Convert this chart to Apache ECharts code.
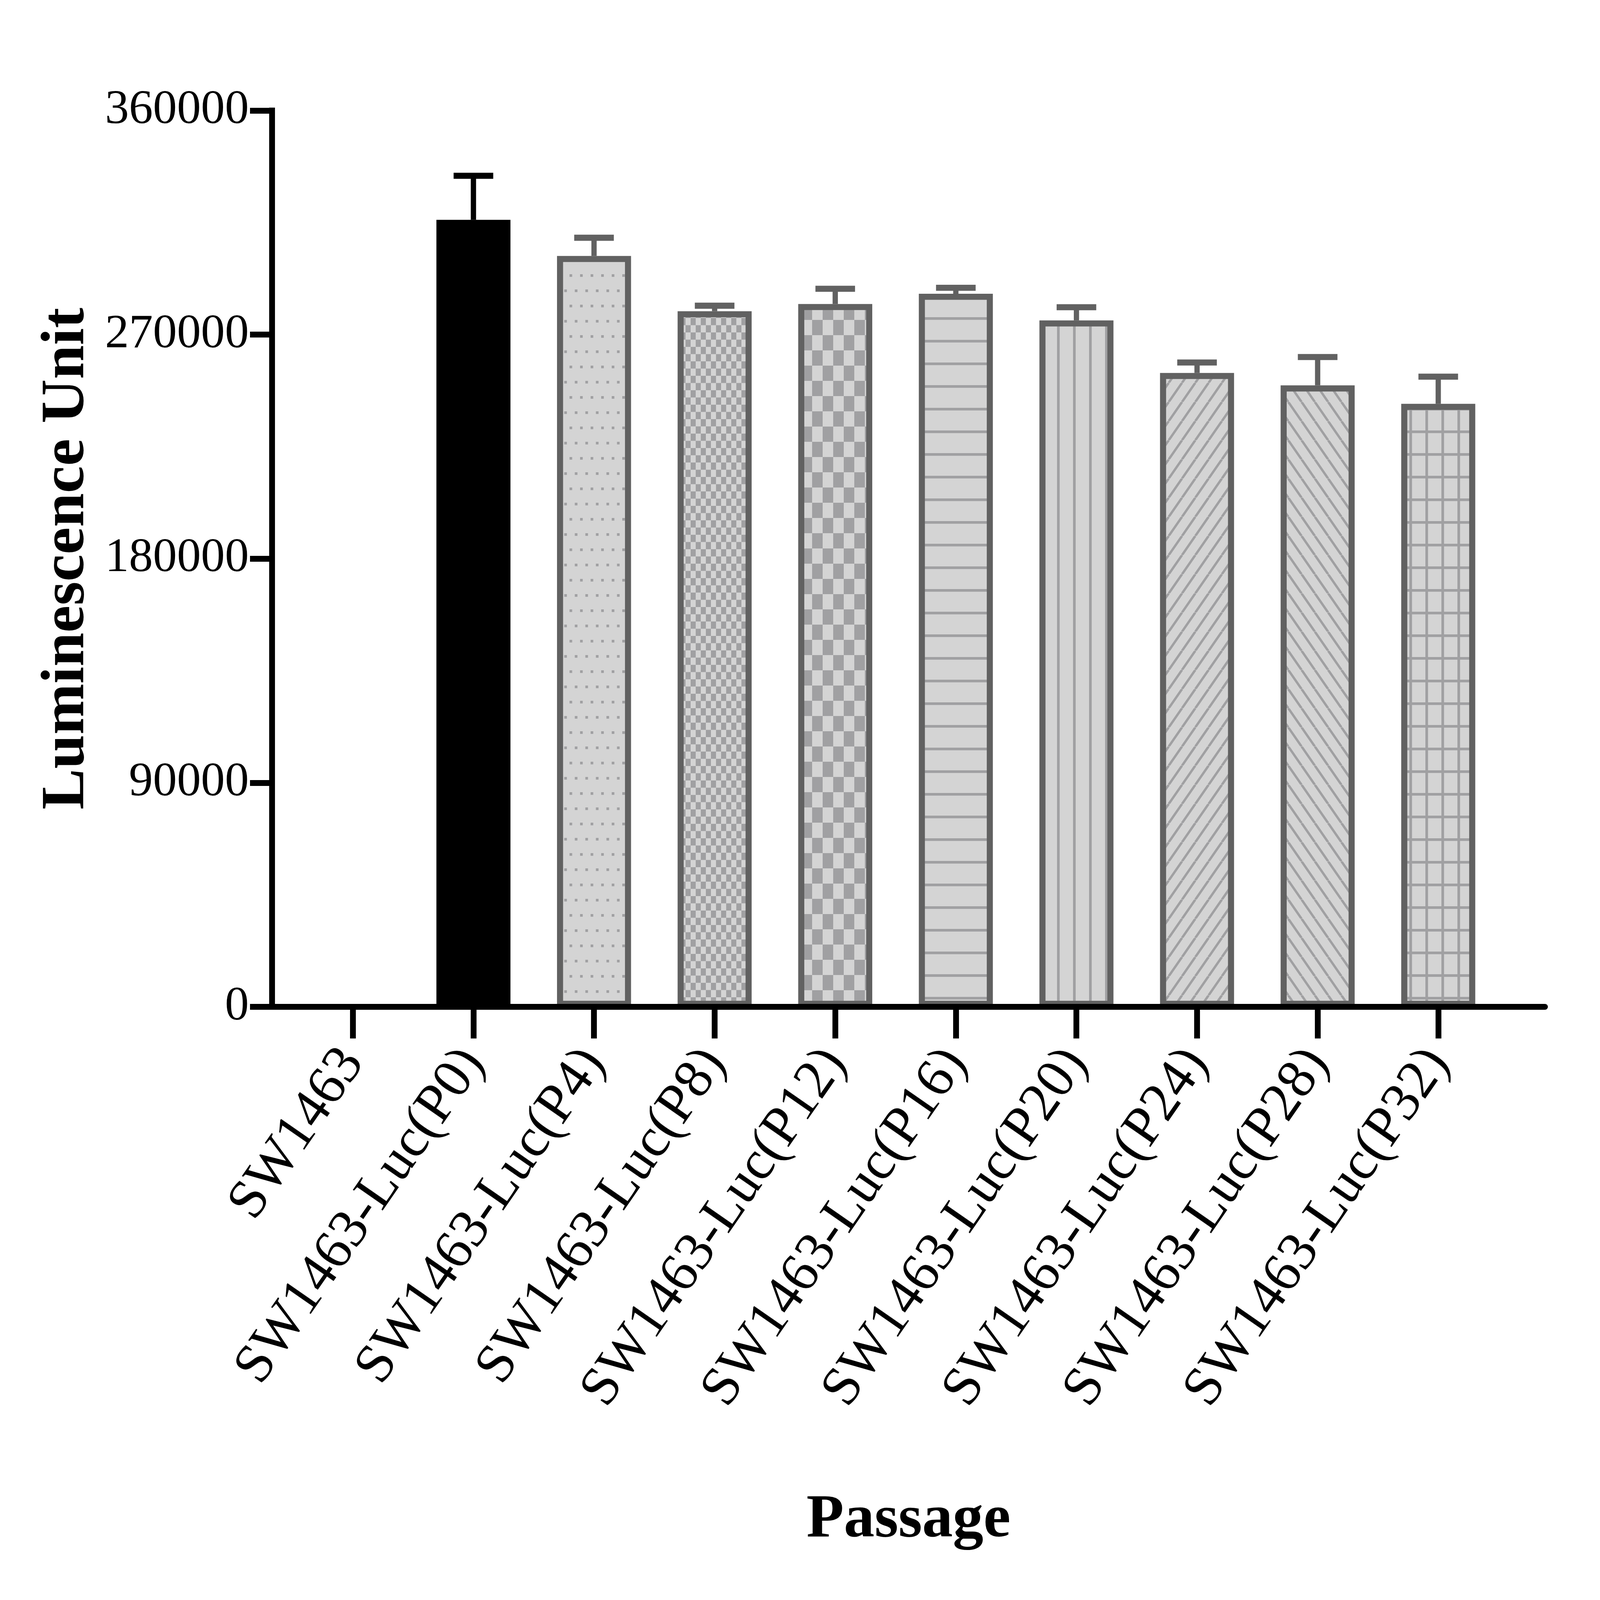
<!DOCTYPE html>
<html>
<head>
<meta charset="utf-8">
<script src="https://cdn.jsdelivr.net/npm/echarts@6/dist/echarts.min.js"></script>
<style>
  html, body { margin: 0; padding: 0; background: #fff; overflow: hidden; }
  #main { width: 100vw; height: 100vh; }
</style>
</head>
<body>
<div id="main"></div>
<script>
// data
const categories = ['SW1463', 'SW1463-Luc(P0)', 'SW1463-Luc(P4)', 'SW1463-Luc(P8)', 'SW1463-Luc(P12)',
    'SW1463-Luc(P16)', 'SW1463-Luc(P20)', 'SW1463-Luc(P24)', 'SW1463-Luc(P28)', 'SW1463-Luc(P32)'];
const means = [0, 316100, 301600, 279400, 282300, 286400, 275700, 254600, 249600, 242200];
const errors = [0, 17700, 7300, 2200, 6100, 2400, 5300, 4200, 11400, 10900];
const yTicks = [0, 90000, 180000, 270000, 360000];
const fills = ['none', 'solid', 'dots', 'checkSmall', 'checkLarge', 'hlines', 'vlines', 'diagUp', 'diagDown', 'grid'];

const FONT = '"Liberation Serif", "Times New Roman", serif';
const BG = '#d4d4d4';
const INK = '#a0a0a2';
const EDGE = '#616161';

// layout is measured on the 7270x5052 reference and scaled to the real window
const W = window.innerWidth, H = window.innerHeight;
const sx = W / 7270, sy = H / 5052, sf = Math.sqrt(sx * sy);
// keeps the labels on the reference's 45 degree slant when the window is not the same shape
const labelAngle = Math.atan2(sy, sx) * 180 / Math.PI;

// little canvases used as repeating fill textures
function makePattern(kind) {
    let w = 72, h = 72;
    if (kind === 'dots') { w = 48; h = 96; }
    if (kind === 'checkSmall') { w = 46; h = 46; }
    if (kind === 'checkLarge') { w = 96; h = 96; }
    if (kind === 'diagUp' || kind === 'diagDown') { w = 60; h = 60; }
    w = Math.max(4, Math.round(w * sx));
    h = Math.max(4, Math.round(h * sy));
    const c = document.createElement('canvas');
    c.width = w; c.height = h;
    const ctx = c.getContext('2d');
    ctx.fillStyle = BG;
    ctx.fillRect(0, 0, w, h);
    ctx.fillStyle = INK;
    ctx.strokeStyle = INK;
    const t = Math.max(1, 10 * sf);
    if (kind === 'dots') {
        ctx.fillRect(0, 0, t, t);
        ctx.fillRect(w / 2, h / 2, t, t);
    } else if (kind === 'checkSmall' || kind === 'checkLarge') {
        ctx.fillRect(0, 0, w / 2, h / 2);
        ctx.fillRect(w / 2, h / 2, w / 2, h / 2);
    } else if (kind === 'hlines') {
        ctx.fillRect(0, 0, w, t);
    } else if (kind === 'vlines') {
        ctx.fillRect(0, 0, t, h);
    } else if (kind === 'grid') {
        ctx.fillRect(0, 0, w, t);
        ctx.fillRect(0, 0, t, h);
    } else if (kind === 'diagUp' || kind === 'diagDown') {
        ctx.lineWidth = 9 * sf;
        ctx.beginPath();
        for (let k = -1; k <= 1; k++) {
            if (kind === 'diagUp') {
                ctx.moveTo(k * w, h);
                ctx.lineTo(k * w + w, 0);
            } else {
                ctx.moveTo(k * w, 0);
                ctx.lineTo(k * w + w, h);
            }
        }
        ctx.stroke();
    }
    return c;
}

const borderW = 23 * sf;

function barStyle(kind) {
    if (kind === 'none') return { color: '#000', borderWidth: 0 };
    if (kind === 'solid') return { color: '#000', borderColor: '#000', borderWidth: borderW };
    return {
        color: { image: makePattern(kind), repeat: 'repeat' },
        borderColor: EDGE,
        borderWidth: borderW
    };
}

const errColor = fills.map(k => (k === 'solid' ? '#000' : EDGE));
const xTickValues = categories.map((c, i) => i);
const axisW = 22 * sf;

const chart = echarts.init(document.getElementById('main'));

const option = {
    animation: false,
    backgroundColor: '#fff',
    grid: {
        left: 1236 * sx,
        right: 250 * sx,
        top: 349 * sy,
        bottom: 1873 * sy,
        containLabel: false,
        outerBoundsMode: 'none'
    },
    xAxis: {
        type: 'value',
        min: -0.67,
        max: 9.885,
        z: 10,
        name: 'Passage',
        nameLocation: 'middle',
        nameGap: 1525 * sy,
        nameTextStyle: { fontFamily: FONT, fontSize: 232 * sf, fontWeight: 'bold', color: '#000' },
        axisLine: { show: true, onZero: false, lineStyle: { color: '#000', width: axisW } },
        axisTick: {
            show: true,
            customValues: xTickValues,
            length: 100 * sy,
            lineStyle: { color: '#000', width: axisW }
        },
        axisLabel: {
            customValues: xTickValues,
            rotate: labelAngle,
            margin: 150 * sy,
            fontFamily: FONT,
            fontSize: 210 * sf,
            color: '#000',
            formatter: v => categories[Math.round(v)]
        },
        splitLine: { show: false }
    },
    yAxis: {
        type: 'value',
        min: yTicks[0],
        max: yTicks[yTicks.length - 1],
        interval: yTicks[1] - yTicks[0],
        z: 10,
        name: 'Luminescence Unit',
        nameLocation: 'middle',
        nameRotate: 90,
        nameGap: 790 * sx,
        nameMoveOverlap: false,
        nameTextStyle: { fontFamily: FONT, fontSize: 232 * sf, fontWeight: 'bold', color: '#000' },
        axisLine: { show: true, onZero: false, lineStyle: { color: '#000', width: axisW, cap: 'square' } },
        axisTick: { show: true, length: 100 * sx, lineStyle: { color: '#000', width: axisW } },
        axisLabel: {
            margin: 105 * sx,
            fontFamily: FONT,
            fontSize: 202 * sf * 0.9,
            color: '#000',
            formatter: v => String(v)
        },
        splitLine: { show: false }
    },
    series: [
        {
            type: 'bar',
            barWidth: 364 * sx - borderW,
            data: means.map((v, i) => ({ value: [i, v], itemStyle: barStyle(fills[i]) }))
        },
        {
            type: 'custom',
            z: 5,
            encode: { x: 0, y: 1 },
            data: means.map((m, i) => [i, m, errors[i]]),
            renderItem: function (params, api) {
                const i = api.value(0);
                const m = api.value(1);
                const e = api.value(2);
                if (!e) return;
                const base = api.coord([i, m]);
                const top = api.coord([i, m + e]);
                const col = errColor[i];
                const half = 90 * sx;
                return {
                    type: 'group',
                    children: [
                        { type: 'line', shape: { x1: base[0], y1: base[1], x2: top[0], y2: top[1] }, style: { stroke: col, lineWidth: 20 * sf } },
                        { type: 'line', shape: { x1: top[0] - half, y1: top[1], x2: top[0] + half, y2: top[1] }, style: { stroke: col, lineWidth: 23 * sf } }
                    ]
                };
            }
        }
    ]
};

chart.setOption(option);
</script>
</body>
</html>
